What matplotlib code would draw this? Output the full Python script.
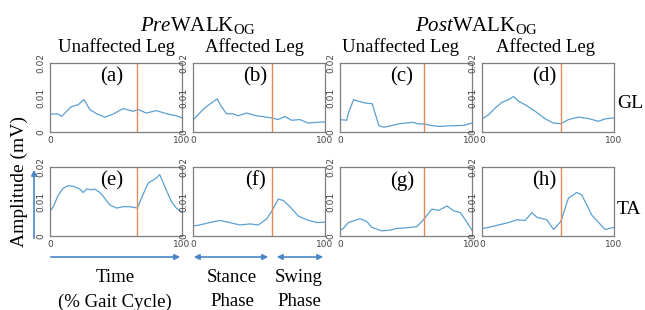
import matplotlib
matplotlib.use("Agg")
import matplotlib.pyplot as plt
from matplotlib.patches import FancyArrowPatch

plt.rcParams['font.family'] = ['Liberation Serif', 'DejaVu Serif']
plt.rcParams['mathtext.fontset'] = 'custom'
plt.rcParams['mathtext.rm'] = 'Liberation Serif'
plt.rcParams['mathtext.it'] = 'Liberation Serif:italic'

# EMG envelopes (mV) vs % gait cycle
a_x = [0, 6.3, 8.8, 12.6, 16.4, 21.4, 25.7, 30.2, 35.3, 41.6, 47.9, 55.4, 63, 66.8, 73, 80.6, 88.2, 95.7, 100]
a_y = [0.0052, 0.0052, 0.0045, 0.0060, 0.0074, 0.0079, 0.0094, 0.0065, 0.0053, 0.0043, 0.0052, 0.0068,
       0.0060, 0.0065, 0.0055, 0.0062, 0.0053, 0.0047, 0.0041]
b_x = [0, 3.8, 8.9, 13.9, 18.2, 21.5, 25.3, 30.4, 34.2, 40.5, 48.1, 55.7, 59.5, 64.6, 69.6, 74.7, 81, 87.3, 93.7, 100]
b_y = [0.0034, 0.0050, 0.0070, 0.0084, 0.0096, 0.0074, 0.0053, 0.0053, 0.0047, 0.0055, 0.0047, 0.0043,
       0.0041, 0.0036, 0.0045, 0.0034, 0.0036, 0.0026, 0.0028, 0.0029]
c_x = [0, 5.1, 6.4, 10.3, 14.1, 19.2, 24.4, 26.9, 29.5, 33.3, 38.5, 44.9, 55.1, 59, 64.1, 69.2, 75.6, 83.3, 93.6, 100]
c_y = [0.0036, 0.0034, 0.0055, 0.0094, 0.0089, 0.0084, 0.0082, 0.0050, 0.0018, 0.0014, 0.0018, 0.0024,
       0.0028, 0.0024, 0.0023, 0.0019, 0.0016, 0.0018, 0.0019, 0.0026]
d_x = [0, 5, 10.1, 15.1, 20.2, 23.9, 27.7, 32.7, 40.3, 47.9, 54.2, 59.7, 65.5, 73, 80.6, 88.2, 93.2, 100]
d_y = [0.0038, 0.0050, 0.0070, 0.0086, 0.0094, 0.0103, 0.0089, 0.0079, 0.0060, 0.0038, 0.0026, 0.0024,
       0.0036, 0.0043, 0.0039, 0.0031, 0.0038, 0.0041]
e_x = [0, 2.5, 6.3, 10.1, 13.9, 17.6, 22.7, 25.2, 27.7, 31.5, 34, 37.8, 40.3, 45.3, 50.4, 55.4, 60.5,
       66.2, 69.3, 74.3, 80.6, 83.1, 86.9, 91.9, 95.7, 100]
e_y = [0.0071, 0.0085, 0.0119, 0.0139, 0.0146, 0.0144, 0.0136, 0.0126, 0.0136, 0.0134, 0.0136, 0.0126,
       0.0115, 0.0090, 0.0081, 0.0085, 0.0085, 0.0081, 0.0110, 0.0153, 0.0168, 0.0178, 0.0144, 0.0100,
       0.0081, 0.0068]
f_x = [0, 5.1, 12.7, 20.3, 27.8, 35.4, 43, 49.4, 55.7, 59.5, 64.6, 68.4, 73.4, 79.7, 86.1, 93.7, 100]
f_y = [0.0029, 0.0032, 0.0039, 0.0045, 0.0039, 0.0032, 0.0035, 0.0032, 0.0049, 0.0071, 0.0107, 0.0103,
       0.0085, 0.0058, 0.0047, 0.0039, 0.0040]
g_x = [0, 2.5, 6.3, 15.2, 20.3, 24.1, 31.6, 38, 43, 50.6, 58.2, 62, 64.6, 69.6, 74.7, 81, 86.1, 91.1, 94.9, 100]
g_y = [0.0016, 0.0022, 0.0039, 0.0050, 0.0042, 0.0025, 0.0015, 0.0017, 0.0022, 0.0024, 0.0027, 0.0042,
       0.0054, 0.0078, 0.0074, 0.0087, 0.0073, 0.0068, 0.0047, 0.0017]
h_x = [0, 5, 12.6, 20.2, 26.4, 32.7, 37.8, 41.6, 49.1, 54.2, 59.7, 65.5, 71.8, 75.6, 83.1, 93.2, 100]
h_y = [0.0022, 0.0025, 0.0032, 0.0039, 0.0047, 0.0045, 0.0068, 0.0054, 0.0047, 0.0019, 0.0042, 0.0110,
       0.0126, 0.0119, 0.0061, 0.0019, 0.0025]

panels = [("(a)", a_x, a_y, 66), ("(b)", b_x, b_y, 60), ("(c)", c_x, c_y, 64), ("(d)", d_x, d_y, 60),
          ("(e)", e_x, e_y, 66), ("(f)", f_x, f_y, 60), ("(g)", g_x, g_y, 64), ("(h)", h_x, h_y, 60)]

W, H = 645, 310
lefts = [50, 193, 340, 482]
tops = [63, 167]
aw, ah = 132, 69

blue = "#5aa0d2"
orange = "#e8885a"
gray = "#7f7f7f"

fig = plt.figure(figsize=(6.45, 3.10), dpi=100)

for i, (lab, xs, ys, toe_off) in enumerate(panels):
    r, c = divmod(i, 4)
    ax = fig.add_axes([lefts[c] / W, 1 - (tops[r] + ah) / H, aw / W, ah / H])
    ax.plot(xs, ys, color=blue, lw=0.9)
    ax.axvline(toe_off, color=orange, lw=1.0)
    ax.set_xlim(0, 100)
    ax.set_ylim(0, 0.02)
    ax.set_xticks([0, 100])
    ax.set_xticklabels(["0", "100"], family="DejaVu Sans", fontsize=6.5)
    ax.set_yticks([0, 0.01, 0.02])
    ax.set_yticklabels(["0", "0.01", "0.02"], family="DejaVu Sans", fontsize=6.5,
                       rotation=90, va="center")
    ax.tick_params(length=0, pad=3, colors="#444444")
    for s in ax.spines.values():
        s.set_color(gray)
        s.set_linewidth(0.9)
    ax.text(0.47, 0.8, lab, transform=ax.transAxes, ha="center", va="center", fontsize=15)

def fx(px):
    return px / W

def fy(py):
    return 1 - py / H

fig.text(fx(198), fy(25), r"$\mathit{Pre}\mathrm{WALK}_{\mathrm{OG}}$", ha="center", va="center", fontsize=15)
fig.text(fx(476), fy(25), r"$\mathit{Post}\mathrm{WALK}_{\mathrm{OG}}$", ha="center", va="center", fontsize=15)
for xc, t in [(116, "Unaffected Leg"), (254, "Affected Leg"), (401, "Unaffected Leg"), (545, "Affected Leg")]:
    fig.text(fx(xc), fy(47), t, ha="center", va="center", fontsize=13.5)

fig.text(fx(617), fy(103), "GL", ha="left", va="center", fontsize=14)
fig.text(fx(617), fy(210), "TA", ha="left", va="center", fontsize=14)
fig.text(fx(19), fy(182), "Amplitude (mV)", ha="center", va="center", rotation=90, fontsize=14)

def arrow(x0, y0, x1, y1, style):
    fig.add_artist(FancyArrowPatch((fx(x0), fy(y0)), (fx(x1), fy(y1)), transform=fig.transFigure,
                                   arrowstyle=style, mutation_scale=8, color="#4a86c5", lw=1.2))

arrow(34, 241, 34, 167, "-|>")
arrow(48, 257, 183, 257, "-|>")
arrow(191, 257, 271, 257, "<|-|>")
arrow(274, 257, 326, 257, "<|-|>")

fig.text(fx(115), fy(278), "Time", ha="center", va="center", fontsize=13.5)
fig.text(fx(115), fy(302), "(% Gait Cycle)", ha="center", va="center", fontsize=13.5)
fig.text(fx(232), fy(278), "Stance", ha="center", va="center", fontsize=13.5)
fig.text(fx(232), fy(302), "Phase", ha="center", va="center", fontsize=13.5)
fig.text(fx(299), fy(278), "Swing", ha="center", va="center", fontsize=13.5)
fig.text(fx(299), fy(302), "Phase", ha="center", va="center", fontsize=13.5)

fig.savefig("out.png", dpi=100, facecolor="white")
